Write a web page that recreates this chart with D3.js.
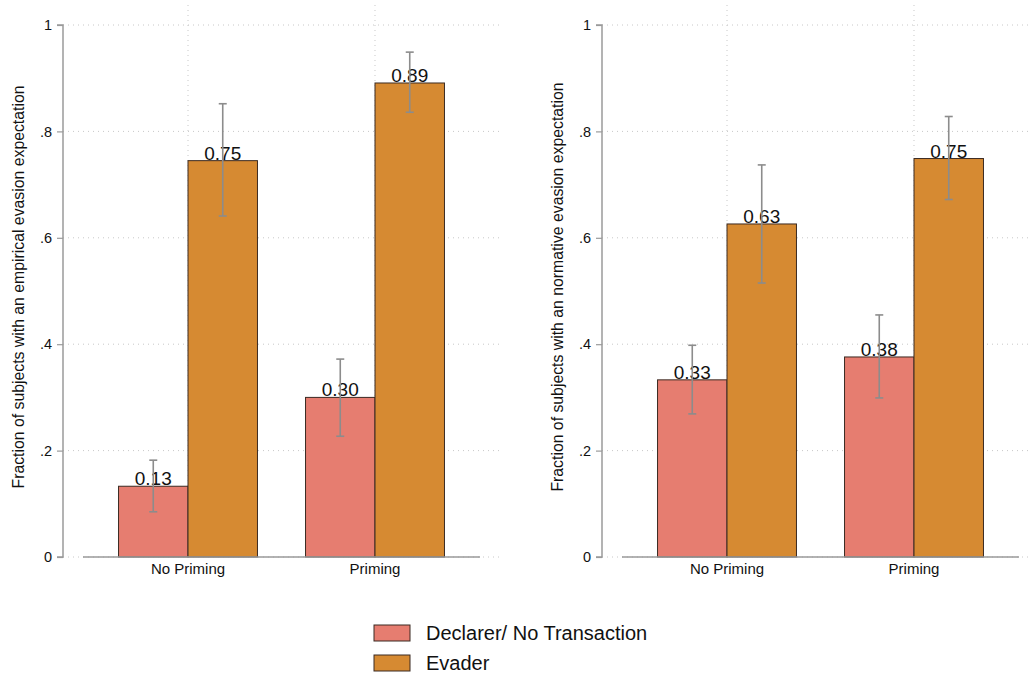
<!DOCTYPE html>
<html><head><meta charset="utf-8">
<script src="https://cdn.jsdelivr.net/npm/d3@7"></script>
<style>body{margin:0;background:#fff;} svg{display:block;font-family:"Liberation Sans",Arial,sans-serif;}</style>
</head><body>
<svg id="c" width="1030" height="677"></svg>
<script>
const categories = ["No Priming", "Priming"];
const seriesNames = ["Declarer/ No Transaction", "Evader"];
const seriesColors = ["#e67d70", "#d68a32"];
const yTicks = [0, 0.2, 0.4, 0.6, 0.8, 1];
const yTickLabels = ["0", ".2", ".4", ".6", ".8", "1"];
const panelTitles = ["Fraction of subjects with an empirical evasion expectation",
                     "Fraction of subjects with an normative evasion expectation"];
// empirical panel: [declarer, evader] per category
const empDeclarer = [0.133, 0.300];
const empEvader = [0.745, 0.891];
const empDeclarerCI = [[0.085, 0.182], [0.227, 0.372]];
const empEvaderCI = [[0.641, 0.852], [0.836, 0.949]];
// normative panel
const normDeclarer = [0.333, 0.376];
const normEvader = [0.626, 0.749];
const normDeclarerCI = [[0.269, 0.398], [0.299, 0.455]];
const normEvaderCI = [[0.515, 0.737], [0.672, 0.828]];
const valueLabels = [["0.13","0.30"],["0.75","0.89"],["0.33","0.38"],["0.63","0.75"]];

const svg = d3.select("#c");
const FONT = "Liberation Sans, Arial, sans-serif";
const panels = [
  {ax: 63, x0: 83, x1: 480, right: 500, titleX: 24, vals: [empDeclarer, empEvader], ci: [empDeclarerCI, empEvaderCI], labs: [valueLabels[0], valueLabels[1]], title: panelTitles[0]},
  {ax: 602, x0: 622, x1: 1019, right: 1030, titleX: 563, vals: [normDeclarer, normEvader], ci: [normDeclarerCI, normEvaderCI], labs: [valueLabels[2], valueLabels[3]], title: panelTitles[1]}
];
const y = d3.scaleLinear().domain([0, 1]).range([557, 25]);
const gridColor = "#c8c8c8", axisColor = "#9a9a9a";

panels.forEach(p => {
  const g = svg.append("g");
  const xb = d3.scaleBand().domain(categories).range([p.x0, p.x1]).paddingInner(0.257).paddingOuter(0.19);
  const xs = d3.scaleBand().domain([0, 1]).range([0, xb.bandwidth()]);
  // horizontal grid
  g.selectAll(".hg").data(yTicks.slice(1)).join("line")
    .attr("x1", p.ax).attr("x2", p.right).attr("y1", d => y(d)).attr("y2", d => y(d))
    .attr("stroke", gridColor).attr("stroke-width", 1).attr("stroke-dasharray", "1,4");
  g.append("line").attr("x1", p.ax).attr("x2", p.right).attr("y1", y(0)).attr("y2", y(0))
    .attr("stroke", gridColor).attr("stroke-dasharray", "1,4");
  // vertical grid at category centers
  g.selectAll(".vg").data(categories).join("line")
    .attr("x1", d => xb(d) + xb.bandwidth()/2).attr("x2", d => xb(d) + xb.bandwidth()/2)
    .attr("y1", 5).attr("y2", y(0))
    .attr("stroke", gridColor).attr("stroke-dasharray", "1,4");
  // y axis
  const ya = d3.axisLeft(y).tickValues(yTicks).tickFormat((d, i) => yTickLabels[i]).tickSize(6).tickPadding(5);
  const yg = g.append("g").attr("transform", `translate(${p.ax},0)`).call(ya);
  yg.attr("font-family", FONT).attr("font-size", 14.5);
  yg.select(".domain").attr("stroke", axisColor).attr("stroke-width", 1.5).attr("d", `M-6,${y(1)}H0V${y(0)}H-6`);
  yg.selectAll(".tick line").attr("stroke", axisColor).attr("stroke-width", 1.2);
  yg.selectAll(".tick text").attr("fill", "#111");
  // bars
  [0, 1].forEach(s => {
    g.selectAll(".bar" + s).data(categories).join("rect")
      .attr("x", (d) => xb(d) + xs(s)).attr("width", xs.bandwidth())
      .attr("y", (d, i) => y(p.vals[s][i])).attr("height", (d, i) => y(0) - y(p.vals[s][i]))
      .attr("fill", seriesColors[s]).attr("stroke", "#3a2a22").attr("stroke-width", 1);
  });
  // x axis
  const xa = d3.axisBottom(xb).tickSize(0).tickPadding(6);
  const xg = g.append("g").attr("transform", `translate(0,${y(0)})`).call(xa);
  xg.attr("font-family", FONT).attr("font-size", 15);
  xg.select(".domain").attr("stroke", axisColor).attr("stroke-width", 1.5).attr("d", `M${p.x0},0H${p.x1}`);
  xg.selectAll(".tick text").attr("fill", "#111");
  // value labels
  [0, 1].forEach(s => {
    g.selectAll(".lab" + s).data(categories).join("text")
      .attr("x", d => xb(d) + xs(s) + xs.bandwidth()/2)
      .attr("y", (d, i) => y(p.vals[s][i]) - 1)
      .attr("text-anchor", "middle").attr("font-size", 19).attr("fill", "#111")
      .text((d, i) => p.labs[s][i]);
  });
  // error bars
  [0, 1].forEach(s => {
    categories.forEach((c, i) => {
      const cx = xb(c) + xs(s) + xs.bandwidth()/2;
      const [lo, hi] = p.ci[s][i];
      const eg = g.append("g").attr("stroke", "#8c8c8c").attr("stroke-width", 1.6);
      eg.append("line").attr("x1", cx).attr("x2", cx).attr("y1", y(lo)).attr("y2", y(hi));
      eg.append("line").attr("x1", cx - 4).attr("x2", cx + 4).attr("y1", y(lo)).attr("y2", y(lo));
      eg.append("line").attr("x1", cx - 4).attr("x2", cx + 4).attr("y1", y(hi)).attr("y2", y(hi));
    });
  });
  // y title
  svg.append("text").attr("transform", `translate(${p.titleX},${287}) rotate(-90)`)
    .attr("text-anchor", "middle").attr("font-size", 15.8).attr("fill", "#111").text(p.title);
});

// legend
const leg = svg.append("g");
seriesNames.forEach((n, i) => {
  leg.append("rect").attr("x", 374).attr("y", 625 + i * 30).attr("width", 36).attr("height", 16)
    .attr("fill", seriesColors[i]).attr("stroke", "#3a2a22").attr("stroke-width", 1);
  leg.append("text").attr("x", 426).attr("y", 633 + i * 30).attr("dy", "0.35em")
    .attr("font-size", 20).attr("fill", "#111").text(n);
});
</script>
</body></html>
